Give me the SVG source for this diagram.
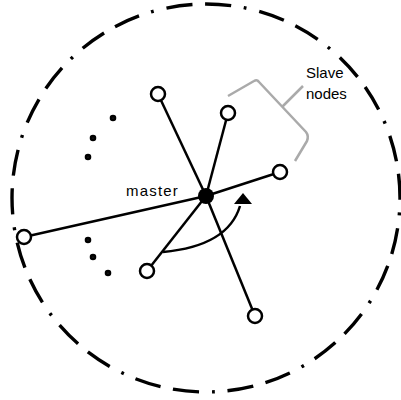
<svg xmlns="http://www.w3.org/2000/svg" width="401" height="400" viewBox="0 0 401 400">
<defs>
<style>
.ring{fill:none;stroke:#000;stroke-width:3.4;stroke-dasharray:28 13.5 28 13.5 3 14;stroke-dashoffset:67.5;stroke-linecap:butt}
.link{stroke:#000;stroke-width:2.5;fill:none}
.slave{fill:#fff;stroke:#000;stroke-width:2.5}
.dot{fill:#fff;stroke:#000;stroke-width:3}
.brace{fill:none;stroke:#aaa;stroke-width:2.5;stroke-linejoin:round}
text{font-family:"Liberation Sans",Arial,sans-serif;fill:#000}
</style>
</defs>
<rect width="401" height="400" fill="#fff"/>
<circle class="ring" cx="206" cy="198" r="194" pathLength="1300"/>
<g id="connectors">
<line class="link" x1="206" y1="196" x2="158" y2="94"/>
<line class="link" x1="206" y1="196" x2="228" y2="113"/>
<line class="link" x1="206" y1="196" x2="280" y2="172"/>
<line class="link" x1="206" y1="196" x2="24" y2="237"/>
<line class="link" x1="206" y1="196" x2="147" y2="271"/>
<line class="link" x1="206" y1="196" x2="255" y2="316"/>
<path class="link" d="M163,252 Q228,246 240,206"/>
<polygon points="243,193 234,204 252,204" fill="#000"/>
</g>
<g id="master"><circle cx="206" cy="196" r="8" fill="#000"/><text x="126" y="196" font-size="15" letter-spacing="1.2">master</text></g>
<g id="slave1"><circle class="slave" cx="158" cy="94" r="7"/></g>
<g id="slave2"><circle class="slave" cx="228" cy="113" r="7"/></g>
<g id="slave3"><circle class="slave" cx="280" cy="172" r="7"/></g>
<g id="slave4"><circle class="slave" cx="24" cy="237" r="7"/></g>
<g id="slave5"><circle class="slave" cx="147" cy="271" r="7"/></g>
<g id="slave6"><circle class="slave" cx="255" cy="316" r="7"/></g>
<g id="dots">
<circle class="dot" cx="113" cy="118" r="1.8"/>
<circle class="dot" cx="93" cy="138" r="1.8"/>
<circle class="dot" cx="88" cy="157" r="1.8"/>
<circle class="dot" cx="88" cy="240" r="1.8"/>
<circle class="dot" cx="93" cy="257" r="1.8"/>
<circle class="dot" cx="108" cy="273" r="1.8"/>
</g>
<g id="label">
<path class="brace" d="M228,96 L254,81 Q257,79 259,82 L306,132 Q309,136 307,141 L295,161"/>
<line class="brace" x1="282" y1="107" x2="303" y2="86"/>
<text x="306" y="78" font-size="15">Slave</text>
<text x="306" y="99" font-size="15">nodes</text>
</g>
</svg>
